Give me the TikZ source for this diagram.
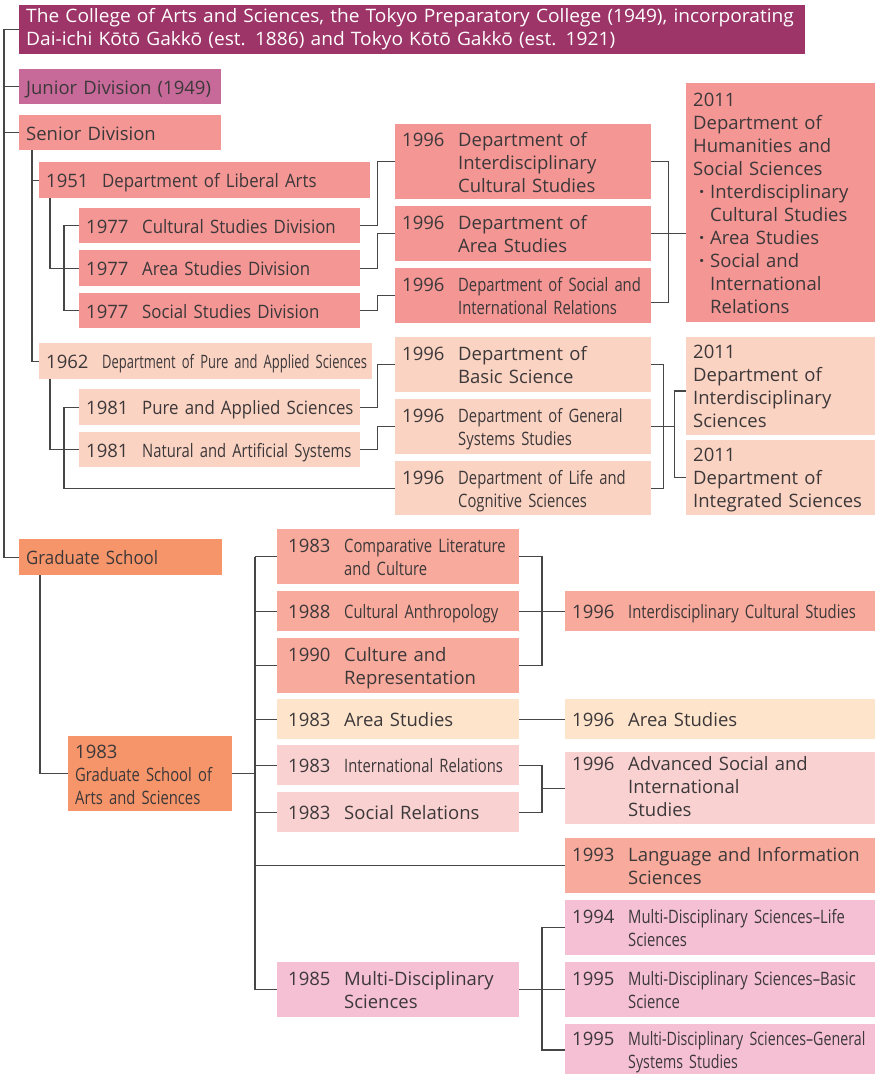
\documentclass[tikz,border=0pt]{standalone}
\usepackage{fontspec}
\setmainfont{Open Sans}
\newfontfamily\condfont{Open Sans}[FakeStretch=0.8]
\newfontfamily\tightfont{Open Sans}[FakeStretch=0.70]
\newfontfamily\midfont{Open Sans}[FakeStretch=0.91]
\newfontfamily\widefont{Open Sans}[FakeStretch=1.035]
\newfontfamily\gsfont{Open Sans}[FakeStretch=0.77]
\usepackage{tikz}

\definecolor{college}{RGB}{157,53,104}
\definecolor{junior}{RGB}{199,106,153}
\definecolor{hum}{RGB}{243,150,148}
\definecolor{sci}{RGB}{251,211,194}
\definecolor{gradC}{RGB}{246,149,106}
\definecolor{ghum}{RGB}{248,170,156}
\definecolor{garea}{RGB}{254,228,203}
\definecolor{gsoc}{RGB}{250,209,209}
\definecolor{multi}{RGB}{246,192,212}
\definecolor{ink}{RGB}{60,56,58}
\definecolor{wire}{RGB}{70,70,70}

\newcommand{\txt}[2][21.5pt]{\begin{tabular}[t]{@{}l@{}}\rule{0pt}{#1}#2\end{tabular}}
\newcommand{\yr}[2]{\makebox[56pt][l]{#1}\txt{#2}}
\newcommand{\yrc}[2]{\makebox[56pt][l]{#1}{\condfont\txt{#2}}}
\newcommand{\yrm}[2]{\makebox[56pt][l]{#1}{\midfont\txt{#2}}}
\newcommand{\blt}{\makebox[17pt][c]{\textbf{\textperiodcentered}}}
\newcommand{\bls}{\hspace*{17pt}}

\begin{document}
\begin{tikzpicture}[x=1pt,y=-1pt,
  unit/.style 2 args={anchor=north west, minimum width=#1, minimum height=#2,
    text width=#1-14, inner xsep=7pt, inner ysep=0pt, align=left, text=ink,
    font=\fontsize{18.5}{23}\selectfont},
  gradmid/.style={execute at begin node={\hspace*{4pt}}},
  link/.style={draw=wire, line width=1.2pt}]
\useasboundingbox (0,0) rectangle (876,1074);

% undergraduate side
\node[unit={786}{49}, fill=college, text=white] (college) at (19,5)
  {\widefont\txt[16pt]{The College of Arts and Sciences, the Tokyo Preparatory College (1949), incorporating\\Dai-ichi Kōtō Gakkō (est. 1886) and Tokyo Kōtō Gakkō (est. 1921)}};
\node[unit={202}{35}, fill=junior] (junior) at (19,69) {\txt{Junior Division (1949)}};
\node[unit={202}{35}, fill=hum] (senior) at (19,115) {\txt{Senior Division}};

\node[unit={331}{36}, fill=hum] (lib) at (39,162) {\yrm{1951}{Department of Liberal Arts}};
\node[unit={281}{35}, fill=hum] (csd) at (79,208) {\yrm{1977}{Cultural Studies Division}};
\node[unit={281}{36}, fill=hum] (asd) at (79,250) {\yrm{1977}{Area Studies Division}};
\node[unit={281}{35}, fill=hum] (ssd) at (79,293) {\yrm{1977}{Social Studies Division}};
\node[unit={256}{75}, fill=hum] (ics) at (395,124) {\yr{1996}{Department of\\Interdisciplinary\\Cultural Studies}};
\node[unit={256}{55}, fill=hum] (ads) at (395,206) {\yr{1996}{Department of\\Area Studies}};
\node[unit={256}{55}, fill=hum] (sir) at (395,268) {\yrc{1996}{Department of Social and\\International Relations}};
\node[unit={189}{239}, fill=hum] (hss) at (686,83)
  {\txt{2011\\Department of\\Humanities and\\Social Sciences\\\blt Interdisciplinary\\\bls Cultural Studies\\\blt Area Studies\\\blt Social and\\\bls International\\\bls Relations}};

\node[unit={333}{36}, fill=sci] (pas) at (39,343) {\makebox[56pt][l]{1962}{\tightfont\txt{Department of Pure and Applied Sciences}}};
\node[unit={281}{36}, fill=sci] (psd) at (79,389) {\yrm{1981}{Pure and Applied Sciences}};
\node[unit={281}{35}, fill=sci] (nas) at (79,432) {\yrc{1981}{Natural and Artificial Systems}};
\node[unit={256}{55}, fill=sci] (bsc) at (395,337) {\yr{1996}{Department of\\Basic Science}};
\node[unit={256}{55}, fill=sci] (gss) at (395,399) {\yrc{1996}{Department of General\\Systems Studies}};
\node[unit={256}{54}, fill=sci] (lcs) at (395,461) {\yrc{1996}{Department of Life and\\Cognitive Sciences}};
\node[unit={189}{96}, fill=sci] (ids) at (686,337) {\txt{2011\\Department of\\Interdisciplinary\\Sciences}};
\node[unit={189}{74}, fill=sci] (isc) at (686,440) {\txt{2011\\Department of\\Integrated Sciences}};

% graduate side
\node[unit={203}{36}, fill=gradC] (grad) at (19,539) {{\midfont\txt{Graduate School}}};
\node[unit={164}{75}, fill=gradC] (gsas) at (68,736) {\txt{1983\\{\condfont Graduate School of}\\{\condfont Arts and Sciences}}};
\node[unit={242}{55}, fill=ghum, gradmid] (cmp) at (277,529) {\yrc{1983}{Comparative Literature\\and Culture}};
\node[unit={242}{40}, fill=ghum, gradmid] (can) at (277,591) {\yrc{1988}{Cultural Anthropology}};
\node[unit={242}{55}, fill=ghum, gradmid] (crp) at (277,638) {\yr{1990}{Culture and\\Representation}};
\node[unit={242}{40}, fill=garea, gradmid] (gas) at (277,699) {\yr{1983}{Area Studies}};
\node[unit={242}{40}, fill=gsoc, gradmid] (gir) at (277,745) {\yrc{1983}{International Relations}};
\node[unit={242}{40}, fill=gsoc, gradmid] (gsr) at (277,792) {\yr{1983}{Social Relations}};
\node[unit={242}{55}, fill=multi, gradmid] (mds) at (277,962) {\yr{1985}{Multi-Disciplinary\\Sciences}};

\node[unit={310}{40}, fill=ghum] (ics2) at (565,591) {\yrc{1996}{Interdisciplinary Cultural Studies}};
\node[unit={310}{40}, fill=garea] (ars) at (565,699) {\yr{1996}{Area Studies}};
\node[unit={310}{72}, fill=gsoc] (ass) at (565,752) {\makebox[56pt][l]{1996}\txt[17pt]{Advanced Social and\\International\\Studies}};
\node[unit={310}{55}, fill=ghum] (lis) at (565,838) {\yr{1993}{Language and Information\\Sciences}};
\node[unit={310}{55}, fill=multi] (msl) at (565,900) {\yrc{1994}{Multi-Disciplinary Sciences–Life\\Sciences}};
\node[unit={310}{55}, fill=multi] (msb) at (565,962) {\yrc{1995}{Multi-Disciplinary Sciences–Basic\\Science}};
\node[unit={310}{50}, fill=multi] (msg) at (565,1024) {\makebox[56pt][l]{1995}{\gsfont\txt{Multi-Disciplinary Sciences–General\\Systems Studies}}};

% connectors
\coordinate (spine) at (4,0);
\draw[link] (college.west) -- (college.west -| spine) |- (grad.west);
\draw[link] (junior.west -| spine) -- (junior.west);
\draw[link] (senior.west -| spine) -- (senior.west);

\draw[link] ([xshift=13]senior.south west) |- (pas.west);
\draw[link] (lib.west) -- ++(-7,0);
\draw[link] ([xshift=11]lib.south west) |- (asd.west);
\draw[link] (csd.west) -- ++(-15,0) |- (ssd.west);
\draw[link] (csd.east) -- ++(17,0) |- (ics.west);
\draw[link] (asd.east) -- ++(17,0) |- (ads.west);
\draw[link] (ssd.east) -- ++(17,0) |- (sir.west);
\draw[link] (ics.east) -- ++(17,0) |- ([yshift=-7]sir.east);
\draw[link] (ads.east) -- (ads.east -| hss.west);

\draw[link] ([xshift=11]pas.south west) |- (nas.west);
\draw[link] (psd.west) -- ++(-15,0) |- (lcs.west);
\draw[link] (psd.east) -- ++(17,0) |- (bsc.west);
\draw[link] (nas.east) -- ++(17,0) |- (gss.west);
\draw[link] (bsc.east) -- ++(12,0) |- (lcs.east);
\draw[link] (gss.east) -- ++(23,0) coordinate (sj);
\draw[link] ([yshift=-5]ids.west) -| (sj) |- (isc.west);

\draw[link] ([xshift=21]grad.south west) |- (gsas.west);
\coordinate (bus) at (255,0);
\coordinate (rbar) at (542,0);
\draw[link] (cmp.west -| bus) -- (mds.west -| bus);
\draw[link] (gsas.east) -- (gsas.east -| bus);
\foreach \n in {cmp,can,crp,gas,gir,gsr,mds,lis}
  \draw[link] (\n.west -| bus) -- (\n.west);
\draw[link] (cmp.east) -| (crp.east -| rbar) -- (crp.east);
\draw[link] (can.east) -- (ics2.west);
\draw[link] (gas.east) -- (ars.west);
\draw[link] (gir.east) -| (gsr.east -| rbar) -- (gsr.east);
\draw[link] (ass.west) -- (ass.west -| rbar);
\draw[link] (msl.west) -- (msl.west -| rbar) |- (msg.west);
\draw[link] (mds.east) -- (msb.west);
\end{tikzpicture}
\end{document}
